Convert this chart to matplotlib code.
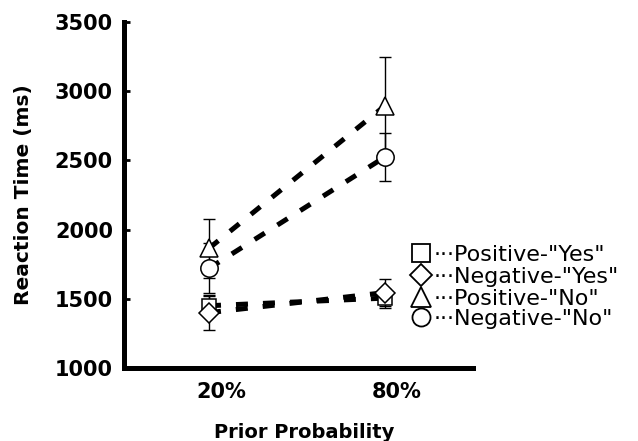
import matplotlib
matplotlib.use("Agg")
import matplotlib.pyplot as plt
from matplotlib.lines import Line2D
from matplotlib.transforms import ScaledTranslation

# Данные
conditions = ["20%", "80%"]
pos_yes = [1450, 1505]
pos_yes_err = [72, 68]
neg_yes = [1400, 1545]
neg_yes_err = [125, 98]
pos_no = [1865, 2895]
pos_no_err = [212, 355]
neg_no = [1720, 2525]
neg_no_err = [180, 175]

series = [
    ('Positive-"Yes"', pos_yes, pos_yes_err, 's', 10),
    ('Negative-"Yes"', neg_yes, neg_yes_err, 'D', 10),
    ('Positive-"No"', pos_no, pos_no_err, '^', 13.5),
    ('Negative-"No"', neg_no, neg_no_err, 'o', 12.5),
]

plt.rcParams['font.family'] = ['DejaVu Sans']

fig = plt.figure(figsize=(6.38, 4.41), dpi=100)
ax = fig.add_axes([124 / 638, 73 / 441, 349 / 638, 346 / 441])

x = list(range(len(conditions)))
for label, vals, errs, marker, ms in series:
    ax.plot(x, vals, color='black', linewidth=3.6, dashes=(2.4, 3.0),
            dash_capstyle='butt', zorder=1)
    ax.errorbar(x, vals, yerr=errs, fmt='none', ecolor='black',
                elinewidth=1.0, capsize=4.5, capthick=1.0, zorder=2)
    ax.plot(x, vals, linestyle='none', marker=marker, markersize=ms,
            markerfacecolor='white', markeredgecolor='black',
            markeredgewidth=1.1, zorder=3)

ax.set_xlim(-0.483, 1.5)
ax.set_ylim(1000, 3500)
ax.set_yticks([1000, 1500, 2000, 2500, 3000, 3500])
ax.set_xticks(x)
ax.set_xticklabels(conditions)

for side in ['top', 'right']:
    ax.spines[side].set_visible(False)
for side in ['left', 'bottom']:
    ax.spines[side].set_linewidth(3.6)
    ax.spines[side].set_capstyle('projecting')

ax.tick_params(axis='y', direction='in', length=4, width=2, pad=8,
               labelsize=15)
ax.tick_params(axis='x', length=0, pad=10, labelsize=15)
for lab in ax.get_yticklabels() + ax.get_xticklabels():
    lab.set_fontweight('bold')
for lab in ax.get_xticklabels():
    lab.set_transform(lab.get_transform() +
                      ScaledTranslation(12 / 100, 0, fig.dpi_scale_trans))

ax.set_ylabel('Reaction Time (ms)', fontsize=14.5, fontweight='bold')
ax.yaxis.set_label_coords(-0.262, 0.5)
ax.set_xlabel('Prior Probability', fontsize=14, fontweight='bold')
ax.xaxis.set_label_coords(0.516, -0.159)

# Легенда: маркер + текст
rows_y = [253, 275, 297, 317]
legend_ms = [13, 11.5, 14.5, 13]
for (label, vals, errs, marker, ms), ry, lms in zip(series, rows_y, legend_ms):
    fy = 1 - ry / 441
    fig.add_artist(Line2D([421 / 638], [fy], transform=fig.transFigure,
                          marker=marker, markersize=lms, linestyle='none',
                          markerfacecolor='white', markeredgecolor='black',
                          markeredgewidth=1.3))
    fig.text(434 / 638, fy, '\u00b7\u00b7\u00b7' + label, fontsize=16,
             ha='left', va='center_baseline')

fig.savefig('out.png', dpi=100)
